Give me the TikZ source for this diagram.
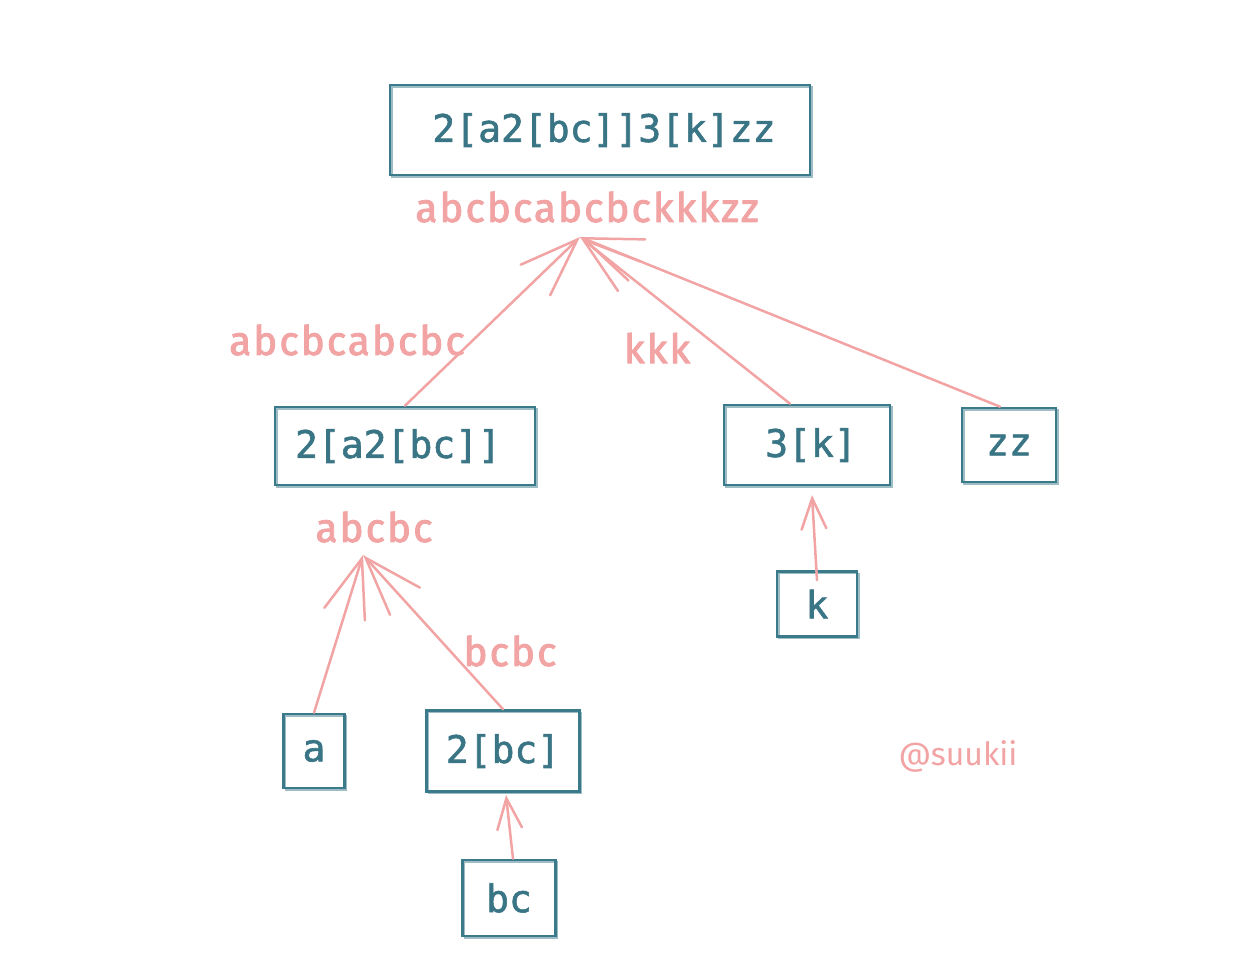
\documentclass[tikz,border=0pt]{standalone}
\usepackage{fontspec}
\setmainfont{Fira Sans}
\newfontfamily\monofnt[FakeBold=1.6]{DejaVu Sans Mono}
\newfontfamily\labelfnt[LetterSpace=5,FakeBold=2.2]{Fira Sans}
\usetikzlibrary{arrows.meta}
\definecolor{boxline}{HTML}{3B7A8A}
\definecolor{boxtext}{HTML}{3A7585}
\definecolor{pinkline}{HTML}{F2A3A3}
\tikzset{
  expr/.style={draw=boxline, line width=2.6pt, inner sep=0pt, text=boxtext,
    font=\monofnt\fontsize{38}{40}\selectfont,
    postaction={draw=boxline, line width=1.3pt, opacity=0.5,
      transform canvas={shift={(2pt,-2pt)}}}},
  result/.style={text=pinkline, inner sep=0pt, font=\labelfnt\fontsize{40.5}{42}\selectfont},
  up/.style={draw=pinkline, line width=2.5pt, line cap=round,
    -{Straight Barb[angle=#1:62pt, line cap=round]}},
  up/.default=40,
  upshort/.style={draw=pinkline, line width=2.5pt, line cap=round,
    -{Straight Barb[angle=44:33pt, line cap=round]}}
}
\begin{document}
\begin{tikzpicture}[x=1pt, y=-1pt]
\useasboundingbox (0,0) rectangle (1254,966);

% expression boxes
\node[expr, minimum width=420pt, minimum height=90pt] (root) at (600,130) {\hspace*{8pt}2[a2[bc]]3[k]zz};
\node[expr, minimum width=260pt, minimum height=78pt] (left) at (405,446) {2[a2[bc]]\hspace*{14pt}};
\node[expr, minimum width=166pt, minimum height=80pt] (three) at (807,445) {\hspace*{8pt}3[k]};
\node[expr, minimum width=94pt, minimum height=74pt] (zz) at (1009,445) {zz};
\node[expr, minimum width=80pt, minimum height=65pt] (k) at (817,604) {k};
\node[expr, minimum width=61pt, minimum height=74pt] (a) at (314,751) {a};
\node[expr, minimum width=153pt, minimum height=81pt] (two) at (503,751) {2[bc]};
\node[expr, minimum width=93pt, minimum height=76pt] (bc) at (509,898) {bc};

% decoded results
\node[result] (rroot) at (587,207) {abcbcabcbckkkzz};
\node[result] (rleft) at (347,340) {abcbcabcbc};
\node[result] (rthree) at (657,348) {kkk};
\node[result] (rtwoa) at (374,527) {abcbc};
\node[result] (rtwo) at (510,651) {bcbc};
\node[text=pinkline, font=\fontsize{32}{34}\selectfont] (sig) at (958,756) {@suukii};

% arrow tips just below each result
\coordinate (troot) at (580,237);
\coordinate (tleft) at (363,555);
\coordinate (tthree) at (812,495);
\coordinate (ttwo) at (506,795);

% arrows from children up to their parent
\draw[up] (left.north) -- (troot);
\draw[up=35] ([xshift=-17pt]three.north) -- (troot);
\draw[up=42] ([xshift=-9pt]zz.north) -- (troot);
\draw[up] (a.north) -- (tleft);
\draw[up=38] (two.north) -- (tleft);
\draw[upshort] ([yshift=-10pt]k.north) -- (tthree);
\draw[upshort] ([xshift=4pt]bc.north) -- (ttwo);
\end{tikzpicture}
\end{document}
